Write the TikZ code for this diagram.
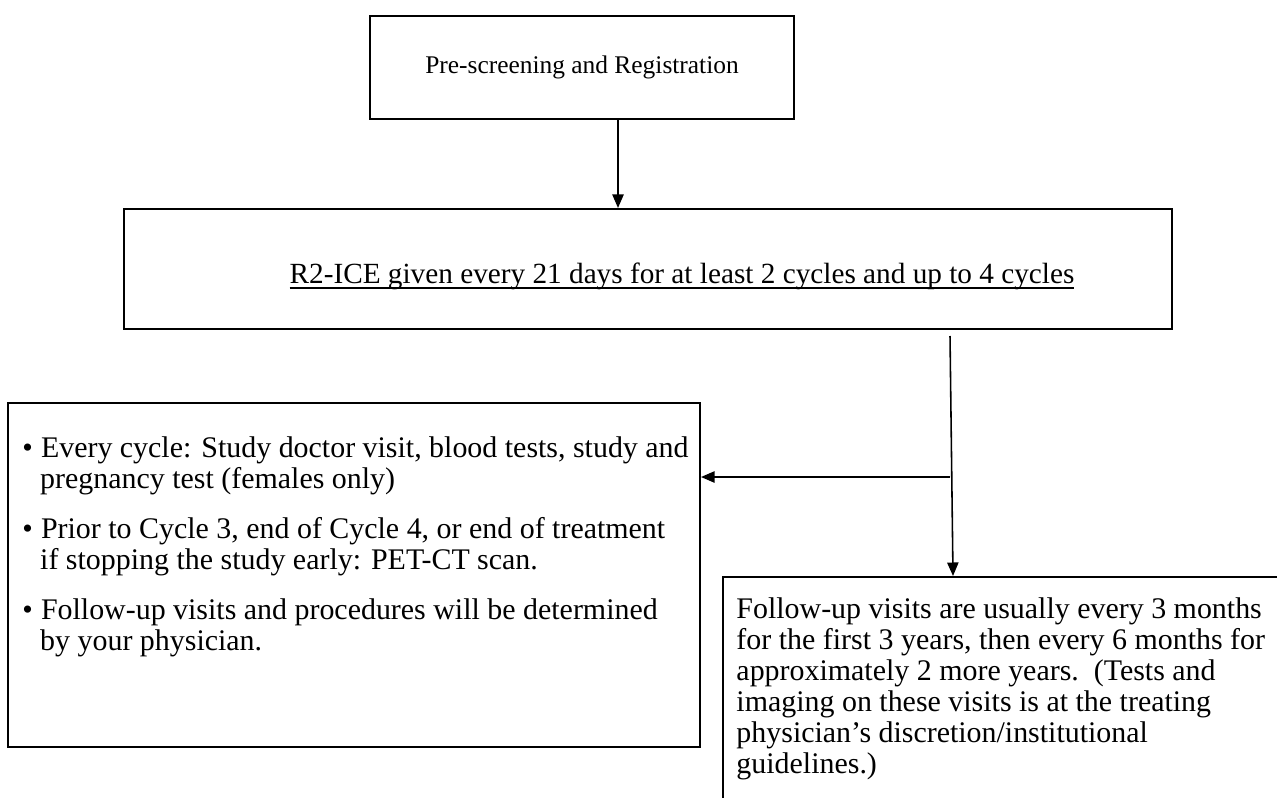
\documentclass[tikz,border=0pt]{standalone}
\usepackage{fontspec}
\setmainfont{Liberation Serif}
\usetikzlibrary{arrows.meta,fit}
\newcommand\ulthick[1]{\setbox0\hbox{#1}\leavevmode\rlap{\raisebox{-2.6pt}{\rule{\wd0}{0.75pt}}}\box0}
\begin{document}
\begin{tikzpicture}[x=0.4444pt,y=-0.4444pt,
  box/.style={draw, line width=0.9pt, inner sep=0pt},
  txt/.style={inner sep=0pt, align=left, font=\fontsize{13.3pt}{13.8pt}\selectfont},
  arr/.style={line width=0.7pt, -{Triangle[length=6pt,width=5pt]}}]
\useasboundingbox (0,0) rectangle (1277,797);
\clip (0,0) rectangle (1277,797);
% boxes
\node[box, fit={(370,16) (794,119)}] (b1) {};
\node[txt, anchor=center, font=\fontsize{11.3pt}{13.8pt}\selectfont] (t1) at (582,67) {Pre-screening and Registration};
\node[box, fit={(124,209) (1172,329)}] (b2) {};
\node[txt, anchor=center, font=\fontsize{13pt}{13.8pt}\selectfont] (t2) at (682,276) {\ulthick{R2-ICE given every 21 days for at least 2 cycles and up to 4 cycles}};
\node[box, fit={(8,403) (700,747)}] (lb) {};
\node[txt, anchor=north west] (tl) at (22,436) {%
\textbullet\hspace{3.6pt}Every cycle: Study doctor visit, blood tests, study and\\
\hspace*{7.9pt}pregnancy test (females only)\\[8.6pt]
\textbullet\hspace{3.6pt}Prior to Cycle 3, end of Cycle 4, or end of treatment\\
\hspace*{7.9pt}if stopping the study early: PET-CT scan.\\[8.2pt]
\textbullet\hspace{3.6pt}Follow-up visits and procedures will be determined\\
\hspace*{7.9pt}by your physician.};
\node[box, fit={(723,577) (1300,830)}] (rb) {};
\node[txt, anchor=north west] (tr) at (736,597) {%
Follow-up visits are usually every 3 months\\
for the first 3 years, then every 6 months for\\
approximately 2 more years.\ \ (Tests and\\
imaging on these visits is at the treating\\
physician’s discretion/institutional\\
guidelines.)};
% connectors
\coordinate (a1) at (618,0);
\draw[arr] (b1.south -| a1) -- (b2.north -| a1);
\coordinate (v1) at (950,336);
\coordinate (v2) at (953,0);
\draw[arr] (v1) -- (v2 |- rb.north);
\coordinate (h1) at (950,477);
\draw[arr] (h1) -- (h1 -| lb.east);
\end{tikzpicture}
\end{document}
